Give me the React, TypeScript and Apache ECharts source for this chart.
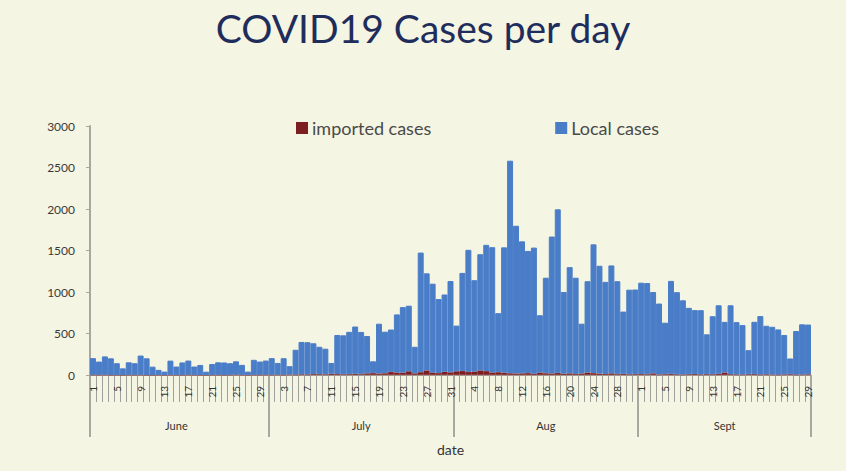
import React, { useEffect, useRef } from 'react';
import * as echarts from 'echarts';

const monthNames = ['June', 'July', 'Aug', 'Sept'];
const monthDays = [30, 31, 31, 29];

const localJune = [200, 160, 220, 200, 140, 80, 150, 140, 230, 200, 100, 60, 40, 170, 100, 150, 170, 100, 120, 40, 130, 150, 150, 140, 160, 120, 40, 180, 160, 170];
const localJuly = [200, 140, 200, 100, 300, 390, 390, 370, 330, 310, 130, 470, 470, 510, 570, 510, 450, 140, 600, 500, 510, 700, 790, 790, 320, 1440, 1170, 1070, 890, 930, 1100];
const localAug = [550, 1180, 1470, 1100, 1400, 1520, 1510, 710, 1510, 2560, 1780, 1590, 1470, 1520, 690, 1150, 1650, 1970, 985, 1280, 1160, 600, 1100, 1550, 1300, 1110, 1300, 1120, 750, 1020, 1020];
const localSept = [1100, 1100, 980, 855, 620, 1120, 990, 895, 800, 770, 775, 480, 700, 825, 610, 830, 630, 595, 290, 630, 705, 585, 575, 545, 475, 190, 525, 605, 600];

const importedJune = [3, 2, 4, 1, 2, 0, 3, 2, 4, 1, 0, 2, 1, 3, 2, 1, 4, 2, 1, 0, 2, 3, 1, 2, 5, 2, 1, 3, 2, 4];
const importedJuly = [3, 5, 2, 6, 4, 8, 5, 12, 10, 7, 15, 12, 8, 10, 14, 9, 20, 25, 18, 22, 38, 30, 28, 45, 20, 35, 55, 30, 25, 40, 32];
const importedAug = [45, 50, 38, 42, 55, 48, 30, 35, 28, 22, 18, 20, 25, 15, 30, 22, 18, 26, 15, 20, 12, 18, 30, 24, 16, 12, 20, 10, 14, 8, 10];
const importedSept = [12, 8, 20, 6, 10, 14, 8, 5, 9, 12, 6, 10, 8, 15, 30, 10, 7, 6, 9, 11, 5, 8, 6, 4, 7, 9, 5, 6, 8];

const yTicks = [0, 500, 1000, 1500, 2000, 2500, 3000];

export default function App() {
  const ref = useRef<HTMLDivElement>(null);

  useEffect(() => {
    if (!ref.current) return;
    const chart = echarts.init(ref.current, null, { renderer: 'svg' });

    const categories: string[] = [];
    const dayOf: string[] = [];
    const monthStarts: number[] = [];
    const monthMidLabel: Record<number, string> = {};
    let idx = 0;
    monthNames.forEach((m, mi) => {
      monthStarts.push(idx);
      monthMidLabel[idx + Math.floor((monthDays[mi] - 1) / 2)] = m;
      for (let d = 1; d <= monthDays[mi]; d++) {
        categories.push(m + '-' + d);
        dayOf.push(String(d));
      }
      idx += monthDays[mi];
    });

    const local = [...localJune, ...localJuly, ...localAug, ...localSept];
    const imported = [...importedJune, ...importedJuly, ...importedAug, ...importedSept];

    const font = 'Lato, "Open Sans", sans-serif';
    const blue = '#4a7dc8';
    const red = '#7c1f22';

    chart.setOption({
      animation: false,
      backgroundColor: '#f5f5e3',
      title: {
        text: 'COVID19 Cases per day',
        left: 'center',
        top: 3,
        textStyle: { fontFamily: font, fontSize: 39, fontWeight: 'normal', color: '#1f2d5c' },
      },
      legend: {
        left: 291,
        top: 114,
        itemWidth: 10,
        itemHeight: 10,
        itemGap: 124,
        icon: 'rect',
        data: ['imported cases', 'Local cases'],
        textStyle: { fontFamily: font, fontSize: 18, color: '#4a4a4a', padding: [0, 0, 0, 0] },
      },
      grid: { left: 90, right: 35, top: 126, bottom: 96 },
      xAxis: [
        {
          type: 'category',
          data: categories,
          position: 'bottom',
          axisLine: { show: true, lineStyle: { color: '#a8a8a0', width: 1 } },
          axisTick: { show: true, interval: 0, length: 27, lineStyle: { color: '#a0a09a', width: 1 } },
          axisLabel: {
            interval: 3,
            rotate: 90,
            margin: 11,
            fontSize: 10,
            fontFamily: font,
            color: '#333333',
            formatter: (_v: string, i: number) => dayOf[i],
          },
          splitLine: { show: false },
        },
        {
          type: 'category',
          data: categories,
          position: 'bottom',
          axisLine: { show: false },
          axisTick: {
            show: true,
            interval: (i: number) => monthStarts.indexOf(i) >= 0,
            length: 62,
            lineStyle: { color: '#a8a8a0', width: 2 },
          },
          axisLabel: {
            interval: 0,
            margin: 45,
            fontSize: 11,
            fontFamily: font,
            color: '#333333',
            formatter: (_v: string, i: number) => monthMidLabel[i] || '',
          },
          name: 'date',
          nameLocation: 'middle',
          nameGap: 67,
          nameTextStyle: { fontFamily: font, fontSize: 14, color: '#333333' },
        },
      ],
      yAxis: {
        type: 'value',
        min: yTicks[0],
        max: yTicks[yTicks.length - 1],
        interval: yTicks[1] - yTicks[0],
        axisLine: { show: true, lineStyle: { color: '#a8a8a0', width: 2 } },
        axisTick: { show: true, length: 4, lineStyle: { color: '#a8a8a0' } },
        axisLabel: {
          fontSize: 12,
          fontFamily: font,
          color: '#3a3a3a',
          margin: 15,
          formatter: (v: number) => String(v),
        },
        splitLine: { show: false },
      },
      series: [
        {
          name: 'imported cases',
          type: 'bar',
          stack: 'total',
          data: imported,
          barCategoryGap: '0%',
          itemStyle: { color: red, borderColor: red, borderWidth: 0.5 },
        },
        {
          name: 'Local cases',
          type: 'bar',
          stack: 'total',
          data: local,
          barCategoryGap: '0%',
          itemStyle: { color: blue, borderColor: blue, borderWidth: 1 },
        },
      ],
    });

    return () => chart.dispose();
  }, []);

  return (
    <div
      ref={ref}
      style={{ position: 'fixed', left: 0, top: 0, width: 846, height: 471 }}
    />
  );
}
